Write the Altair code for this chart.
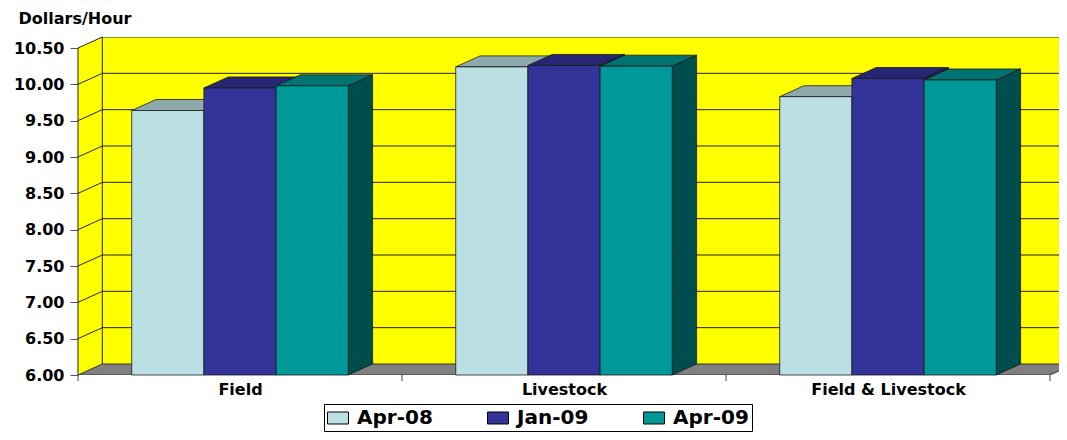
import json
import altair as alt
import pandas as pd

# ---------------- data ----------------
CATEGORIES = ["Field", "Livestock", "Field & Livestock"]
SERIES = ["Apr-08", "Jan-09", "Apr-09"]
APR_08 = [9.64, 10.24, 9.83]
JAN_09 = [9.95, 10.26, 10.08]
APR_09 = [9.98, 10.25, 10.06]
Y_TICKS = [6.0, 6.5, 7.0, 7.5, 8.0, 8.5, 9.0, 9.5, 10.0, 10.5]
Y_TITLE = "Dollars/Hour"

# ---------------- styles ----------------
FRONT = ["#BBE0E3", "#333399", "#009999"]
TOP = ["#8EA9AB", "#262673", "#007373"]
SIDE = ["#7E9799", "#1C1C55", "#004D4D"]
WALL = "#FFFF00"
FLOOR = "#808080"
LINE = "#222222"
FONT = "DejaVu Sans"

# ---------------- 3-D geometry (data units) ----------------
NCAT = len(CATEGORIES)
NSER = len(SERIES)
DX = 0.075      # depth, horizontal (category units)
DY = 0.1515     # depth, vertical (value units)
BW = 0.2228     # bar width (category units)
Y0 = Y_TICKS[0]
YT = Y_TICKS[-1]
W, H = 981, 338
XMAX = W / 324.0
YMAX = YT + DY

XSCALE = alt.Scale(domain=[0, XMAX], nice=False, zero=False)
YSCALE = alt.Scale(domain=[Y0, YMAX], nice=False, zero=False)

rows = []
for i, c in enumerate(CATEGORIES):
    for j, (s, vals) in enumerate(zip(SERIES, [APR_08, JAN_09, APR_09])):
        rows.append({"category": c, "ci": i, "series": s, "si": j, "value": vals[i]})
df = pd.DataFrame(rows)

y_axis = alt.Axis(
    values=Y_TICKS, format=".2f", title=Y_TITLE, titleAngle=0, titleAlign="left",
    titleBaseline="alphabetic", titleX=-60, titleY=-14, titleFont=FONT,
    titleFontSize=16, titleFontWeight="bold", titleColor="black",
    labelFont=FONT, labelFontSize=16, labelFontWeight="bold", labelColor="black",
    labelPadding=6, tickSize=8, tickColor="#555555", domain=False, grid=False,
    labelFlush=False, labelOverlap=False,
)

x_axis = alt.Axis(
    values=[i + 0.5 for i in range(NCAT)],
    labelExpr=f"{json.dumps(CATEGORIES)}[floor(datum.value)]",
    title=None, ticks=False, tickSize=0, domain=False, grid=False,
    labelFont=FONT, labelFontSize=16, labelFontWeight="bold", labelColor="black",
    labelPadding=6, labelFlush=False, labelOverlap=False,
)


def ex(field):
    return alt.X(f"{field}:Q", scale=XSCALE, axis=x_axis, stack=None)


def ey(field):
    return alt.Y(f"{field}:Q", scale=YSCALE, axis=y_axis, stack=None)


legend = alt.Legend(
    title=None, orient="none", legendX=246, legendY=367, direction="horizontal",
    labelFont=FONT, labelFontWeight="bold", labelFontSize=20, labelColor="black",
    symbolType="M-1,-0.57H1V0.57H-1Z", symbolSize=441, symbolStrokeColor="black",
    symbolStrokeWidth=1, symbolOpacity=1, strokeColor="black", fillColor="white",
    padding=3, columnPadding=52, labelOffset=8,
)

one = pd.DataFrame({"k": [0]})
two = pd.DataFrame({"t": [0, 1]})
grid_df = pd.DataFrame({"v": Y_TICKS[1:]})
bounds_df = pd.DataFrame({"b": list(range(NCAT + 1))})

layers = []

# back wall
layers.append(
    alt.Chart(one).transform_calculate(
        xa=f"{DX}", xb=f"{NCAT + DX}", ya=f"{Y0 + DY}", yb=f"{YT + DY}"
    ).mark_rect(color=WALL, clip=True).encode(
        x=ex("xa"), x2="xb", y=ey("ya"), y2="yb"
    )
)
# left side wall
layers.append(
    alt.Chart(two).transform_calculate(
        xw=f"datum.t*{DX}", ylo=f"{Y0}+datum.t*{DY}", yhi=f"{YT}+datum.t*{DY}"
    ).mark_area(color=WALL).encode(x=ex("xw"), y=ey("ylo"), y2="yhi")
)
# floor
layers.append(
    alt.Chart(two).transform_calculate(
        yf=f"{Y0}+datum.t*{DY}", xa=f"datum.t*{DX}", xb=f"{NCAT}+datum.t*{DX}"
    ).mark_area(orient="horizontal", fill=FLOOR, stroke="#333333", strokeWidth=1, clip=True).encode(
        y=ey("yf"), x=ex("xa"), x2="xb"
    )
)
# back wall gridlines
layers.append(
    alt.Chart(grid_df).transform_calculate(
        yg=f"datum.v+{DY}", xa=f"{DX}", xb=f"{NCAT + DX}"
    ).mark_rule(color=LINE, strokeWidth=1, clip=True).encode(
        x=ex("xa"), x2="xb", y=ey("yg")
    )
)
# side wall gridlines
layers.append(
    alt.Chart(grid_df).transform_calculate(
        xa="0", xb=f"{DX}", yb=f"datum.v+{DY}"
    ).mark_rule(color=LINE, strokeWidth=1).encode(
        x=ex("xa"), x2="xb", y=ey("v"), y2="yb"
    )
)
# wall edges: back-left vertical edge and front axis line
layers.append(
    alt.Chart(one).transform_calculate(
        xa=f"{DX}", ya=f"{Y0 + DY}", yb=f"{YT + DY}"
    ).mark_rule(color=LINE, strokeWidth=1).encode(x=ex("xa"), y=ey("ya"), y2="yb")
)
layers.append(
    alt.Chart(one).transform_calculate(
        xa="0", ya=f"{Y0}", yb=f"{YT}"
    ).mark_rule(color=LINE, strokeWidth=1).encode(x=ex("xa"), y=ey("ya"), y2="yb")
)
# category boundary ticks
layers.append(
    alt.Chart(bounds_df).transform_calculate(yb=f"{Y0}").mark_rule(
        color="#444444", strokeWidth=1, y2Offset=6
    ).encode(x=ex("b"), y=ey("yb"), y2="yb")
)

x0_expr = f"datum.ci + 0.5 - {NSER / 2}*{BW} + datum.si*{BW}"

for j in range(NSER):
    base = alt.Chart(df).transform_filter(f"datum.si == {j}").transform_calculate(
        x0=x0_expr
    ).transform_calculate(x1=f"datum.x0 + {BW}")
    flat = base.transform_calculate(t="[0, 1]").transform_flatten(["t"])
    # top face
    layers.append(
        flat.transform_calculate(
            ty=f"datum.value + datum.t*{DY}",
            xa=f"datum.x0 + datum.t*{DX}",
            xb=f"datum.x1 + datum.t*{DX}",
        ).mark_area(orient="horizontal", fill=TOP[j], stroke="#1a1a1a", strokeWidth=0.8).encode(
            y=ey("ty"), x=ex("xa"), x2="xb", detail="category:N"
        )
    )
    # side face
    layers.append(
        flat.transform_calculate(
            xs=f"datum.x1 + datum.t*{DX}",
            ylo=f"{Y0} + datum.t*{DY}",
            yhi=f"datum.value + datum.t*{DY}",
        ).mark_area(fill=SIDE[j], stroke="#1a1a1a", strokeWidth=0.8).encode(
            x=ex("xs"), y=ey("ylo"), y2="yhi", detail="category:N"
        )
    )
    # front face
    layers.append(
        base.transform_calculate(yb=f"{Y0}").mark_rect(
            stroke="#1a1a1a", strokeWidth=0.8
        ).encode(
            x=ex("x0"), x2="x1", y=ey("yb"), y2="value",
            fill=alt.Fill("series:N", scale=alt.Scale(domain=SERIES, range=FRONT), legend=legend),
        )
    )

chart = alt.layer(*layers).properties(
    width=W, height=H,
    autosize=alt.AutoSizeParams(type="none"),
    padding={"left": 70, "top": 29, "right": 0, "bottom": 57},
).configure_view(stroke=None)

chart.save("out.html", embed_options={"renderer": "svg", "actions": False})
